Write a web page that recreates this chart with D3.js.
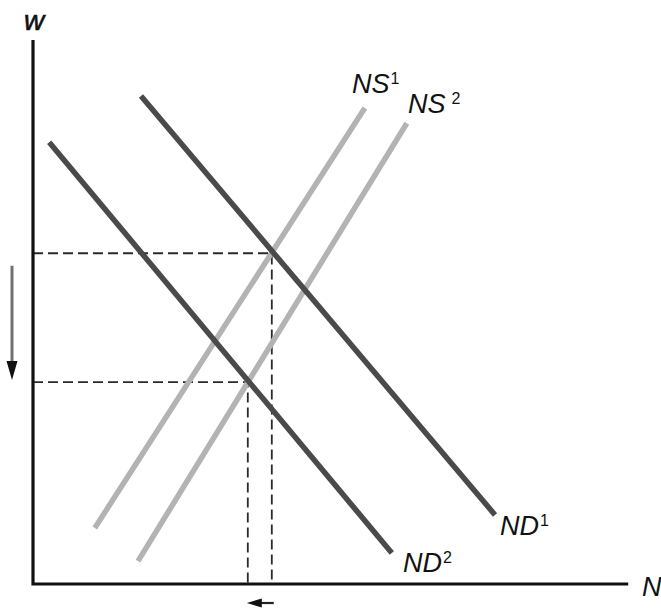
<!DOCTYPE html>
<html>
<head>
<meta charset="utf-8">
<script src="https://cdn.jsdelivr.net/npm/d3@7"></script>
<style>
  body { margin: 0; background: #fff; }
  text { font-family: "Liberation Sans", Arial, sans-serif; font-style: italic; fill: #111; }
</style>
</head>
<body>
<div id="chart"></div>
<script>
// curves in chart units (x: 0..100 along N, y: 0..100 along w)
var demandCurves = [
    {name: "ND", sup: "1", pts: [[18, 89.7], [77, 12.7]]},
    {name: "ND", sup: "2", pts: [[2.7, 81.2], [59.8, 5.7]]}
];
var supplyCurves = [
    {name: "NS", sup: "1", pts: [[10.3, 10.3], [55.3, 87.5]]},
    {name: "NS", sup: "2", pts: [[17.5, 4.2], [62.3, 84.7]]}
];
var equilibria = [[39.8, 60.8], [35.8, 37.1]];
var axisEnd = [99.2, 100];

var width = 661, height = 612;
var margin = {top: 40, right: 28, bottom: 28, left: 33};

var x = d3.scaleLinear().domain([0, 100]).range([margin.left, width - margin.right]);
var y = d3.scaleLinear().domain([0, 100]).range([height - margin.bottom, margin.top]);

var svg = d3.select("#chart").append("svg")
    .attr("width", width)
    .attr("height", height);

var line = d3.line()
    .x(function (d) { return x(d[0]); })
    .y(function (d) { return y(d[1]); });

// dashed guides
equilibria.forEach(function (e) {
    svg.append("path")
        .attr("d", line([[0, e[1]], [e[0], e[1]], [e[0], 0]]))
        .attr("fill", "none")
        .attr("stroke", "#2a2a2a")
        .attr("stroke-width", 1.8)
        .attr("stroke-dasharray", "10,5");
});

// supply curves (light)
svg.selectAll(".ns")
    .data(supplyCurves)
    .enter().append("path")
    .attr("class", "ns")
    .attr("d", function (d) { return line(d.pts); })
    .attr("stroke", "#b3b3b3")
    .attr("stroke-width", 5.5);

// demand curves (dark)
svg.selectAll(".nd")
    .data(demandCurves)
    .enter().append("path")
    .attr("class", "nd")
    .attr("d", function (d) { return line(d.pts); })
    .attr("stroke", "#4a4a4a")
    .attr("stroke-width", 5.5);

// axes
svg.append("path")
    .attr("d", line([[0, axisEnd[1]], [0, 0], [axisEnd[0], 0]]))
    .attr("fill", "none")
    .attr("stroke", "#111")
    .attr("stroke-width", 3.2);

svg.append("text").attr("x", 24).attr("y", 30)
    .attr("font-size", 28).attr("stroke", "#111").attr("stroke-width", 0.6).text("w");
svg.append("text").attr("x", 642).attr("y", 596)
    .attr("font-size", 27).text("N");

// curve labels
function label(tx, ty, d, gap) {
    var t = svg.append("text").attr("x", tx).attr("y", ty).attr("font-size", 27);
    t.append("tspan").text(d.name);
    t.append("tspan").attr("dy", -9).attr("dx", gap)
        .attr("font-size", 16).attr("font-style", "normal").text(d.sup);
}
label(352, 93, supplyCurves[0], 1);
label(408, 113, supplyCurves[1], 6);
label(500, 535, demandCurves[0], 1);
label(403, 572, demandCurves[1], 1);

// shift arrows
var downX = 12, downTop = y(58.5), downTip = y(37.5);
svg.append("line")
    .attr("x1", downX).attr("y1", downTop).attr("x2", downX).attr("y2", downTip - 16)
    .attr("stroke", "#707070").attr("stroke-width", 3);
svg.append("path")
    .attr("d", "M" + (downX - 5.5) + "," + (downTip - 19) + "L" + (downX + 5.5) + "," + (downTip - 19) +
        "L" + downX + "," + downTip + "Z")
    .attr("fill", "#111");

var leftY = 603, leftTip = x(equilibria[1][0]) - 1, leftTail = x(equilibria[0][0]) + 2;
svg.append("line")
    .attr("x1", leftTail).attr("y1", leftY).attr("x2", leftTip + 12).attr("y2", leftY)
    .attr("stroke", "#222").attr("stroke-width", 2.2);
svg.append("path")
    .attr("d", "M" + leftTip + "," + leftY + "L" + (leftTip + 15) + "," + (leftY - 4.5) +
        "L" + (leftTip + 15) + "," + (leftY + 4.5) + "Z")
    .attr("fill", "#111");
</script>
</body>
</html>
